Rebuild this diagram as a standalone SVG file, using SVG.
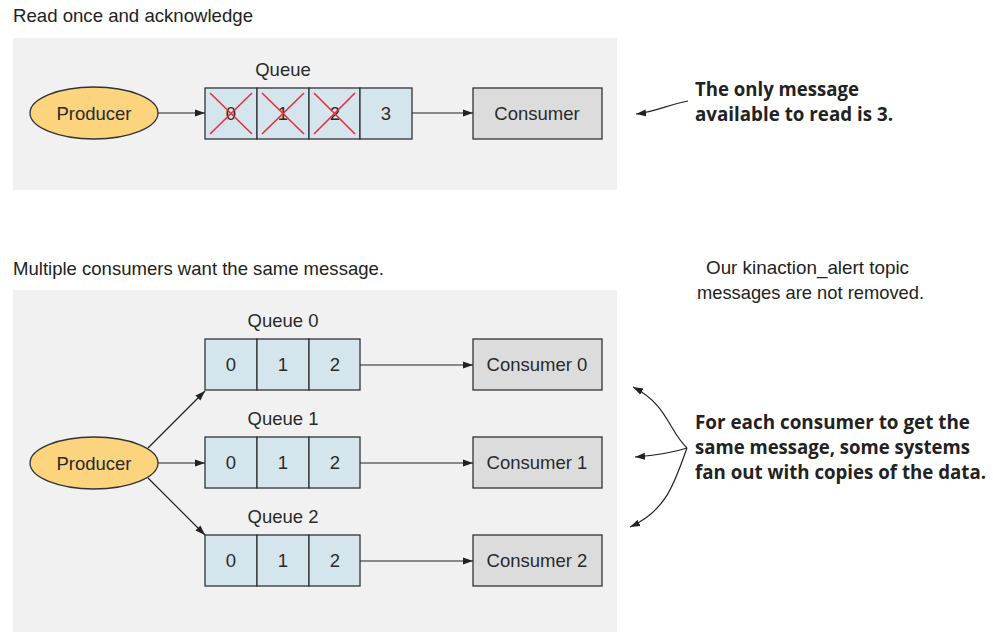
<svg xmlns="http://www.w3.org/2000/svg" width="993" height="633" viewBox="0 0 993 633">
<style>
.panel{fill:#f1f1f1}
.cell{fill:#d5e5ee;stroke:#333;stroke-width:1.3}
.cons{fill:#dcdcdd;stroke:#333;stroke-width:1.3}
.prod{fill:#fdd47e;stroke:#333;stroke-width:1.3}
.t{font-family:"Liberation Sans",Arial,sans-serif;font-size:18.5px;fill:#2a2a2a;text-anchor:middle}
.cap{font-family:"Liberation Sans",Arial,sans-serif;font-size:18.5px;fill:#222}
.note{font-family:"Open Sans","Liberation Sans",sans-serif;font-size:19px;font-weight:bold;fill:#222}
.x{stroke:#e5303a;stroke-width:1.6}
.c{stroke:#222;stroke-width:1.2;fill:none}
</style>
<defs>
<marker id="ah" viewBox="0 0 10 10" refX="10" refY="5" markerWidth="10" markerHeight="10" markerUnits="userSpaceOnUse" orient="auto">
<path d="M0,1.5 L10,5 L0,8.5 Z" fill="#222"/>
</marker>
</defs>
<rect class="panel" x="13" y="38" width="604" height="152"/>
<rect class="panel" x="13" y="290" width="604" height="342"/>
<text class="cap" x="13" y="22" textLength="240" lengthAdjust="spacingAndGlyphs">Read once and acknowledge</text>
<text class="cap" x="13" y="275" textLength="371" lengthAdjust="spacingAndGlyphs">Multiple consumers want the same message.</text>
<text class="cap" x="706" y="274" textLength="203" lengthAdjust="spacingAndGlyphs">Our kinaction_alert topic</text>
<text class="cap" x="697" y="299" textLength="227" lengthAdjust="spacingAndGlyphs">messages are not removed.</text>

<g id="producer-top"><ellipse class="prod" cx="94" cy="113" rx="64" ry="26"/><text class="t" x="94" y="120">Producer</text></g>
<g id="queue-top">
<text class="t" x="283" y="76">Queue</text>
<rect class="cell" x="205" y="88" width="52" height="51"/>
<rect class="cell" x="257" y="88" width="52" height="51"/>
<rect class="cell" x="309" y="88" width="51" height="51"/>
<rect class="cell" x="360" y="88" width="52" height="51"/>
<text class="t" x="231" y="120">0</text><text class="t" x="283" y="120">1</text><text class="t" x="335" y="120">2</text><text class="t" x="386" y="120">3</text>
<path class="x" d="M210,93 L252,134 M252,93 L210,134 M262,93 L304,134 M304,93 L262,134 M314,93 L355,134 M355,93 L314,134"/>
</g>
<g id="consumer-top"><rect class="cons" x="473" y="88" width="129" height="51"/><text class="t" x="537" y="120">Consumer</text></g>

<g id="producer-bottom"><ellipse class="prod" cx="94" cy="463" rx="64" ry="26"/><text class="t" x="94" y="470">Producer</text></g>
<g id="queue0">
<text class="t" x="283" y="327">Queue 0</text>
<rect class="cell" x="205" y="339" width="52" height="51"/><rect class="cell" x="257" y="339" width="52" height="51"/><rect class="cell" x="309" y="339" width="51" height="51"/>
<text class="t" x="231" y="371">0</text><text class="t" x="283" y="371">1</text><text class="t" x="335" y="371">2</text>
</g>
<g id="queue1">
<text class="t" x="283" y="425">Queue 1</text>
<rect class="cell" x="205" y="437" width="52" height="51"/><rect class="cell" x="257" y="437" width="52" height="51"/><rect class="cell" x="309" y="437" width="51" height="51"/>
<text class="t" x="231" y="469">0</text><text class="t" x="283" y="469">1</text><text class="t" x="335" y="469">2</text>
</g>
<g id="queue2">
<text class="t" x="283" y="523">Queue 2</text>
<rect class="cell" x="205" y="535" width="52" height="51"/><rect class="cell" x="257" y="535" width="52" height="51"/><rect class="cell" x="309" y="535" width="51" height="51"/>
<text class="t" x="231" y="567">0</text><text class="t" x="283" y="567">1</text><text class="t" x="335" y="567">2</text>
</g>
<g id="consumer0"><rect class="cons" x="473" y="339" width="129" height="51"/><text class="t" x="537" y="371">Consumer 0</text></g>
<g id="consumer1"><rect class="cons" x="473" y="437" width="129" height="51"/><text class="t" x="537" y="469">Consumer 1</text></g>
<g id="consumer2"><rect class="cons" x="473" y="535" width="129" height="51"/><text class="t" x="537" y="567">Consumer 2</text></g>

<g id="note-top">
<text class="note" x="695" y="96" textLength="164" lengthAdjust="spacingAndGlyphs">The only message</text>
<text class="note" x="695" y="121" textLength="198" lengthAdjust="spacingAndGlyphs">available to read is 3.</text>
</g>
<g id="note-bottom">
<text class="note" x="695" y="429" textLength="275" lengthAdjust="spacingAndGlyphs">For each consumer to get the</text>
<text class="note" x="695" y="454" textLength="275" lengthAdjust="spacingAndGlyphs">same message, some systems</text>
<text class="note" x="695" y="479" textLength="291" lengthAdjust="spacingAndGlyphs">fan out with copies of the data.</text>
</g>

<g id="connectors">
<path class="c" d="M158,113 L205,113" marker-end="url(#ah)"/>
<path class="c" d="M412,113 L473,113" marker-end="url(#ah)"/>
<path class="c" d="M148,448 L205,391" marker-end="url(#ah)"/>
<path class="c" d="M158,463 L205,463" marker-end="url(#ah)"/>
<path class="c" d="M148,478 L205,535" marker-end="url(#ah)"/>
<path class="c" d="M360,365 L473,365" marker-end="url(#ah)"/>
<path class="c" d="M360,463 L473,463" marker-end="url(#ah)"/>
<path class="c" d="M360,561 L473,561" marker-end="url(#ah)"/>
<path class="c" d="M688,101 C670,104 655,112 636,114" marker-end="url(#ah)"/>
<path class="c" d="M687,448 C668,430 668,405 633,387" marker-end="url(#ah)"/>
<path class="c" d="M687,448 C675,452 660,455 635,457" marker-end="url(#ah)"/>
<path class="c" d="M687,448 C675,480 668,510 630,527" marker-end="url(#ah)"/>
</g>
</svg>
